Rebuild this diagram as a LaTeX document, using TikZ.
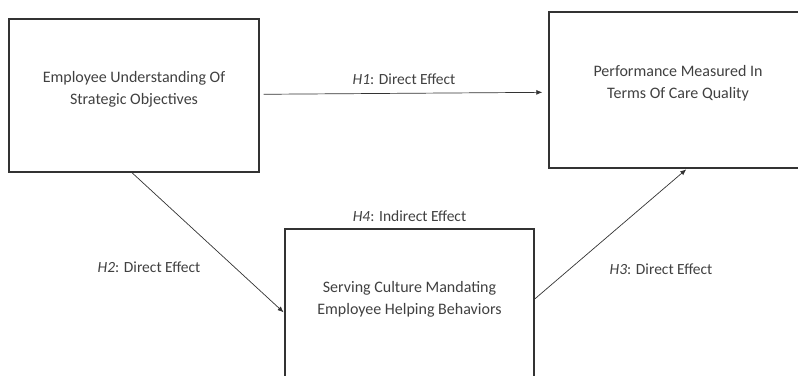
\documentclass[tikz,border=0pt]{standalone}
\usepackage{fontspec}
\setmainfont{Carlito}
\definecolor{boxgray}{RGB}{51,51,51}
\definecolor{textgray}{RGB}{64,64,64}
\usetikzlibrary{arrows.meta,positioning}

\begin{document}
\begin{tikzpicture}[x=1pt, y=-1pt,
    construct/.style={draw=boxgray, line width=1.4pt, align=center, inner sep=0pt,
                      font=\fontsize{16}{22}\selectfont, text=textgray},
    effect/.style={-{Latex[length=6pt,width=5pt]}, draw=boxgray, line width=0.7pt},
    hyp/.style={font=\fontsize{15.5}{18}\selectfont, text=textgray}]
    \useasboundingbox (0,0) rectangle (798,375);
    \clip (0,0) rectangle (798,375);
    % constructs
    \node[construct, minimum width=250pt, minimum height=153pt] (understand) at (134,95.5)
      {Employee Understanding Of\\Strategic Objectives\\[-6pt]};
    \node[construct, minimum width=258pt, minimum height=156pt] (quality) at (678,90)
      {Performance Measured In\\Terms Of Care Quality\\[-6pt]};
    \node[construct, minimum width=249pt, minimum height=154pt] (culture) at (409.5,306)
      {Serving Culture Mandating\\Employee Helping Behaviors\\[-6pt]};
    % hypotheses
    \draw[effect, shorten <=4pt, shorten >=6pt] ([yshift=1.2pt]understand.east) -- ([yshift=-2.3pt]quality.west);
    \draw[effect, shorten >=1pt] ([xshift=-2pt]understand.south) -- ([yshift=-7pt]culture.west);
    \draw[effect, shorten >=1pt] ([yshift=7pt]culture.east) -- ([xshift=9pt]quality.south);
    \node[hyp] (h1) at (404,79) {\textit{H1}: Direct Effect};
    \node[hyp] (h2) at (149,267) {\textit{H2}: Direct Effect};
    \node[hyp] (h3) at (661,269) {\textit{H3}: Direct Effect};
    \node[hyp, above=3pt of culture.north] (h4) {\textit{H4}: Indirect Effect};
\end{tikzpicture}
\end{document}
